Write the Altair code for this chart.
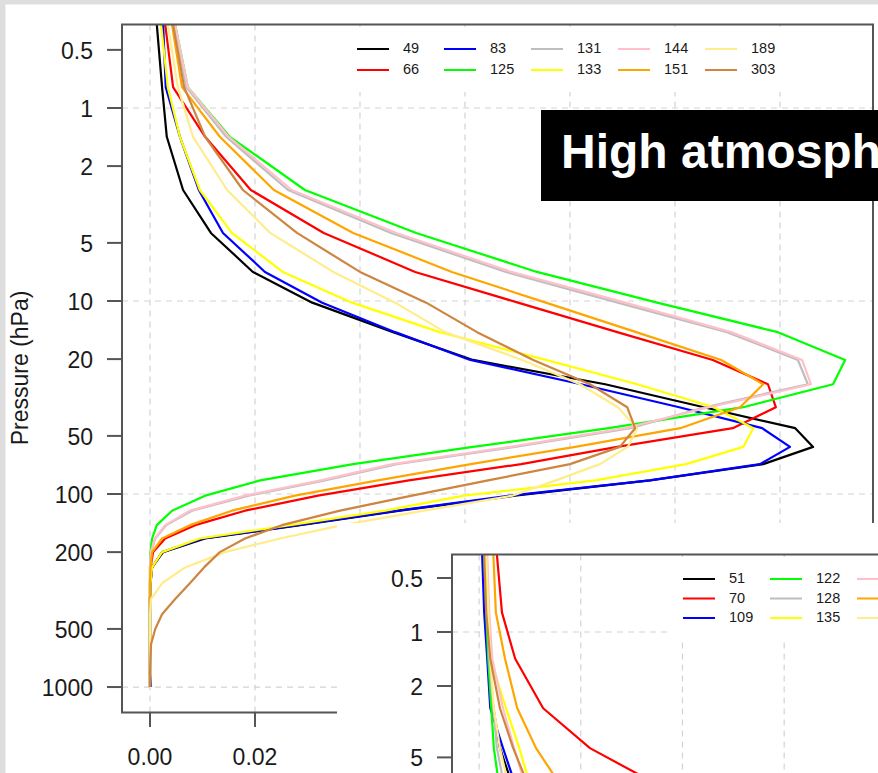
import altair as alt
import pandas as pd

# ---------------------------------------------------------------
# Profiles: fraction vs pressure (hPa), one list per sounding id
# ---------------------------------------------------------------
LEVELS = [0.37, 0.78, 1.41, 2.66, 4.44, 7.07, 10.2, 14.5, 20.2, 27, 35.5, 45.6,
          57, 70, 85, 102, 122, 145, 170, 200, 240, 290, 350, 420, 500, 600,
          700, 850, 1000]

MAIN_IDS = ["49", "66", "83", "125", "131", "133", "144", "151", "189", "303"]
COLORS = ["#000000", "#FF0000", "#0000FF", "#00FF00", "#BEBEBE",
          "#FFFF00", "#FFC0CB", "#FFA500", "#FFEC8B", "#CD853F"]

S49 = [0.0013, 0.0023, 0.0032, 0.0063, 0.0116, 0.0196, 0.0309, 0.0463, 0.0615, 0.0867,
       0.1055, 0.1229, 0.1263, 0.1168, 0.0952, 0.0695, 0.0476, 0.0286, 0.0105, 0.0025,
       0.0004, 0.0001, 0, 0, 0, 0, 0, 0, 0]
S66 = [0.0029, 0.0044, 0.0105, 0.0192, 0.0331, 0.0505, 0.0701, 0.0890, 0.1072, 0.1177,
       0.1192, 0.1110, 0.0890, 0.0707, 0.0493, 0.0320, 0.0181, 0.0086, 0.0029, 0.0006,
       0.0001, 0, 0, 0, 0, 0, 0, 0, 0]
S83 = [0.0025, 0.0030, 0.0057, 0.0093, 0.0139, 0.0219, 0.0328, 0.0467, 0.0610, 0.0821,
       0.1008, 0.1166, 0.1219, 0.1162, 0.0952, 0.0686, 0.0472, 0.0282, 0.0101, 0.0023,
       0.0004, 0.0001, 0, 0, 0, 0, 0, 0, 0.0002]
S125 = [0.0048, 0.0072, 0.0152, 0.0295, 0.0507, 0.0737, 0.0966, 0.1196, 0.1324, 0.1301,
        0.1130, 0.0874, 0.0615, 0.0387, 0.0210, 0.0105, 0.0042, 0.0013, 0.0004, 0.0001,
        0, 0, 0, 0, 0, 0, 0, 0, 0]
S131 = [0.0046, 0.0069, 0.0145, 0.0263, 0.0459, 0.0678, 0.0891, 0.1099, 0.1234, 0.1253,
        0.1057, 0.0915, 0.0695, 0.0470, 0.0333, 0.0188, 0.0080, 0.0031, 0.0010, 0.0002,
        0, 0, 0, 0, 0, 0, 0, 0, 0]
S133 = [0.0021, 0.0034, 0.0057, 0.0095, 0.0156, 0.0253, 0.0385, 0.0552, 0.0754, 0.0928,
        0.1074, 0.1149, 0.1130, 0.1021, 0.0848, 0.0598, 0.0448, 0.0267, 0.0095, 0.0023,
        0.0004, 0.0001, 0, 0, 0, 0, 0, 0, 0]
S144 = [0.0048, 0.0072, 0.0150, 0.0270, 0.0469, 0.0688, 0.0905, 0.1107, 0.1242, 0.1259,
        0.1065, 0.0905, 0.0686, 0.0462, 0.0325, 0.0181, 0.0076, 0.0029, 0.0009, 0.0002,
        0, 0, 0, 0, 0, 0, 0, 0, 0]
S151 = [0.0042, 0.0061, 0.0133, 0.0236, 0.0387, 0.0575, 0.0754, 0.0926, 0.1088, 0.1168,
        0.1124, 0.1010, 0.0810, 0.0611, 0.0434, 0.0276, 0.0156, 0.0076, 0.0023, 0.0004,
        0.0001, 0, 0, 0, 0, 0, 0, 0, 0]
S189 = [0.0034, 0.0053, 0.0082, 0.0147, 0.0229, 0.0349, 0.0467, 0.0562, 0.0709, 0.0819,
        0.0891, 0.0928, 0.0910, 0.0857, 0.0773, 0.0690, 0.0522, 0.0366, 0.0248, 0.0143,
        0.0067, 0.0023, 0.0002, 0, 0, 0, 0, 0, 0]
S303 = [0.0044, 0.0065, 0.0105, 0.0177, 0.0280, 0.0400, 0.0526, 0.0623, 0.0730, 0.0838,
        0.0909, 0.0924, 0.0895, 0.0800, 0.0644, 0.0499, 0.0362, 0.0251, 0.0181, 0.0133,
        0.0103, 0.0076, 0.0048, 0.0023, 0.0010, 0.0002, 0.0001, 0, 0]
MAIN_SERIES = [S49, S66, S83, S125, S131, S133, S144, S151, S189, S303]

# second panel: upper levels of the low-atmosphere soundings
INSET_LEVELS = [0.37, 0.78, 1.41, 2.66, 4.44, 7.07]
INSET_IDS = ["51", "70", "109", "122", "128", "135", "146", "155", "192", "298"]
L51 = [0.0008, 0.0012, 0.0020, 0.0028, 0.0041, 0.0065]
L70 = [0.0035, 0.0045, 0.0071, 0.0126, 0.0218, 0.0350]
L109 = [0.0006, 0.0010, 0.0016, 0.0022, 0.0047, 0.0071]
L122 = [0.0010, 0.0014, 0.0018, 0.0024, 0.0029, 0.0039]
L128 = [0.0012, 0.0016, 0.0020, 0.0028, 0.0035, 0.0049]
L135 = [0.0012, 0.0016, 0.0022, 0.0053, 0.0079, 0.0100]
L146 = [0.0016, 0.0020, 0.0026, 0.0047, 0.0069, 0.0090]
L155 = [0.0028, 0.0033, 0.0051, 0.0075, 0.0112, 0.0159]
L192 = [0.0014, 0.0018, 0.0022, 0.0029, 0.0041, 0.0057]
L298 = [0.0010, 0.0014, 0.0022, 0.0041, 0.0067, 0.0096]
INSET_SERIES = [L51, L70, L109, L122, L128, L135, L146, L155, L192, L298]
# entries shown in the three-column key of the second panel
INSET_KEY = INSET_IDS[:9]

X_TICKS = [0.0, 0.02, 0.04, 0.06, 0.08, 0.10, 0.12]
X_LABELS = ["0.00", "0.02", "0.04", "0.06", "0.08", "0.10", "0.12"]
Y_TICKS = [0.5, 1, 2, 5, 10, 20, 50, 100, 200, 500, 1000]
Y_LABELS = ["0.5", "1", "2", "5", "10", "20", "50", "100", "200", "500", "1000"]
Y_GRID = [1, 10, 100, 1000]
Y_TITLE = "Pressure (hPa)"
BANNER = "High atmosphere"

# plotting limits (data units), padded like base-R plots
X_LO, X_HI = -0.00533, 0.13771
P_TOP, P_BOTTOM = 0.3694, 1355


def long_table(ids, levels, series):
    rows = []
    for sid, vals in zip(ids, series):
        for k, (p, v) in enumerate(zip(levels, vals)):
            rows.append({"series": sid, "pressure": p, "value": v, "step": k})
    return pd.DataFrame(rows)


main_df = long_table(MAIN_IDS, LEVELS, MAIN_SERIES)
inset_df = long_table(INSET_IDS, INSET_LEVELS, INSET_SERIES)
x_ticks_df = pd.DataFrame({"t": X_TICKS, "lab": X_LABELS})
y_ticks_df = pd.DataFrame({"t": Y_TICKS, "lab": Y_LABELS})

FONT = "Liberation Sans"
INK = "#1a1a1a"
FRAME = "#555555"
GRID = "#d3d3d3"
DASH = [6, 5]
one_row = alt.Data(values=[{}])


def legend(x, y, ncol, row_pad, values):
    return alt.Legend(
        orient="none", legendX=x, legendY=y, title=None, columns=ncol,
        direction="vertical", values=values, symbolType="stroke", symbolSize=1024,
        symbolStrokeWidth=2, clipHeight=16, rowPadding=row_pad, columnPadding=15,
        labelOffset=13, labelFont=FONT, labelFontSize=14.5, labelColor=INK,
        fillColor="white", padding=14, gridAlign="all")


def grid_rules(xs, ys):
    vgrid = alt.Chart(pd.DataFrame({"gx": X_TICKS})).mark_rule(
        color=GRID, strokeWidth=1.2, strokeDash=DASH
    ).encode(
        x=alt.X("gx:Q", scale=xs, axis=None),
        y=alt.YDatum(P_TOP, scale=ys, axis=None),
        y2=alt.Y2Datum(P_BOTTOM),
    )
    hgrid = alt.Chart(pd.DataFrame({"gp": Y_GRID})).mark_rule(
        color=GRID, strokeWidth=1.2, strokeDash=DASH
    ).encode(
        y=alt.Y("gp:Q", scale=ys, axis=None),
        x=alt.XDatum(X_LO, scale=xs, axis=None),
        x2=alt.X2Datum(X_HI),
    )
    return vgrid, hgrid


def frame(xs, ys):
    return alt.Chart(one_row).mark_rect(
        fillOpacity=0, stroke=FRAME, strokeWidth=2
    ).encode(
        x=alt.XDatum(X_LO, scale=xs, axis=None), x2=alt.X2Datum(X_HI),
        y=alt.YDatum(P_TOP, scale=ys, axis=None), y2=alt.Y2Datum(P_BOTTOM),
    )


def y_axis(ys, frame_x):
    # outward ticks and right-aligned labels left of the frame
    ticks = alt.Chart(y_ticks_df).mark_rule(color=FRAME, strokeWidth=2).encode(
        y=alt.Y("t:Q", scale=ys, axis=None),
        x=alt.value(frame_x - 15), x2=alt.value(frame_x),
    )
    labels = alt.Chart(y_ticks_df).mark_text(
        font=FONT, fontSize=23, color=INK, align="right", baseline="alphabetic", dy=9
    ).encode(
        y=alt.Y("t:Q", scale=ys, axis=None),
        x=alt.value(frame_x - 29), text="lab:N",
    )
    return ticks, labels


# ------------------------------------------------------------ main panel
MX = alt.Scale(domain=[X_LO, X_HI], range=[117, 868], nice=False, zero=False)
MY = alt.Scale(type="log", domain=[P_TOP, P_BOTTOM], range=[20.5, 708.5], nice=False)

main_vgrid, main_hgrid = grid_rules(MX, MY)

main_lines = alt.Chart(main_df).mark_line(strokeWidth=2.2, strokeJoin="round").encode(
    x=alt.X("value:Q", scale=MX, axis=None),
    y=alt.Y("pressure:Q", scale=MY, axis=None),
    color=alt.Color("series:N", scale=alt.Scale(domain=MAIN_IDS, range=COLORS),
                    legend=legend(337, 23, 5, 5, MAIN_IDS)),
    order=alt.Order("step:Q"),
)
main_frame = frame(MX, MY)
main_yticks, main_ylabels = y_axis(MY, 117)

main_xticks = alt.Chart(x_ticks_df).mark_rule(color=FRAME, strokeWidth=2).encode(
    x=alt.X("t:Q", scale=MX, axis=None), y=alt.value(708), y2=alt.value(723)
)
main_xlabels = alt.Chart(x_ticks_df).mark_text(
    font=FONT, fontSize=23, color=INK, align="center", baseline="alphabetic"
).encode(x=alt.X("t:Q", scale=MX, axis=None), y=alt.value(761), text="lab:N")

y_title = alt.Chart(one_row).mark_text(
    text=Y_TITLE, font=FONT, fontSize=23, color=INK, angle=270,
    align="center", baseline="alphabetic"
).encode(x=alt.value(23), y=alt.value(364))

banner_box = alt.Chart(one_row).mark_rect(color="black").encode(
    x=alt.value(536), x2=alt.value(880), y=alt.value(106), y2=alt.value(197)
)
banner_text = alt.Chart(one_row).mark_text(
    text=BANNER, font=FONT, fontSize=48, fontWeight="bold", color="white",
    align="left", baseline="alphabetic"
).encode(x=alt.value(556), y=alt.value(164))

main_panel = alt.layer(main_vgrid, main_hgrid, main_lines, main_frame,
                       main_yticks, main_ylabels, main_xticks, main_xlabels,
                       y_title, banner_box, banner_text)

# ------------------------------------------------------------ second panel
IX = alt.Scale(domain=[X_LO, X_HI], range=[447, 1174.3], nice=False, zero=False)
IY = alt.Scale(type="log", domain=[P_TOP, P_BOTTOM], range=[550.4, 1189.9], nice=False)

inset_bg = alt.Chart(one_row).mark_rect(color="white").encode(
    x=alt.value(332), x2=alt.value(880), y=alt.value(519), y2=alt.value(780)
)
inset_vgrid, inset_hgrid = grid_rules(IX, IY)
inset_lines = alt.Chart(inset_df).mark_line(strokeWidth=2.2, strokeJoin="round").encode(
    x=alt.X("value:Q", scale=IX, axis=None),
    y=alt.Y("pressure:Q", scale=IY, axis=None),
    color=alt.Color("series:N", scale=alt.Scale(domain=INSET_IDS, range=COLORS),
                    legend=legend(663, 553, 3, 3.5, INSET_KEY)),
    order=alt.Order("step:Q"),
)
inset_frame = frame(IX, IY)
inset_yticks, inset_ylabels = y_axis(IY, 447)

inset_panel = alt.layer(inset_bg, inset_vgrid, inset_hgrid, inset_lines,
                        inset_frame, inset_yticks, inset_ylabels)

chart = alt.layer(main_panel, inset_panel).resolve_scale(
    x="independent", y="independent", color="independent"
).properties(
    width=873, height=769,
    padding={"left": 5, "top": 4, "right": 0, "bottom": 0},
    autosize=alt.AutoSizeParams(type="none"),
    background="#dedede",
).configure_view(fill="white", stroke="transparent")

chart.save("out.html", embed_options={"renderer": "svg", "actions": False})
